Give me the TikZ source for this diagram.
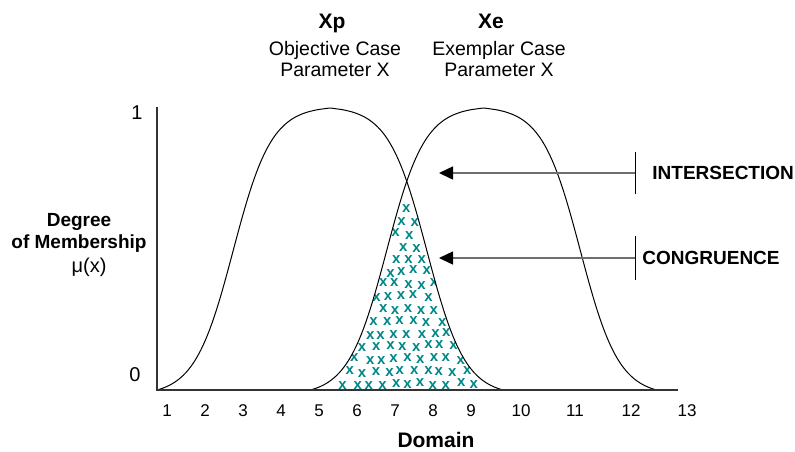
\documentclass[tikz,border=0pt]{standalone}
\usepackage{fontspec}
\setmainfont{Liberation Sans}
\usetikzlibrary{arrows.meta, positioning}
\definecolor{xteal}{RGB}{0, 134, 134}
\definecolor{guidegray}{RGB}{110, 110, 110}

\begin{document}
\begin{tikzpicture}[
  x=0.5pt, y=-0.5pt,
  declare function={bell(\t)=(1/(1+exp(9*(abs(\t)-0.56)))-0.01869)/0.97488;},
  curve/.style={line width=0.5pt, black},
  axis/.style={line width=0.7pt, black!80},
  guide/.style={line width=0.75pt, guidegray, -{Triangle[length=7pt, width=6.5pt, color=black]}},
  bar/.style={line width=0.5pt, black},
  tag/.style={font=\fontsize{9.5}{11}\selectfont\bfseries, inner sep=0pt},
  plain/.style={font=\fontsize{9.75}{10.5}\selectfont, inner sep=0pt},
  tick/.style={font=\fontsize{8.5}{10}\selectfont, inner sep=0pt},
  xmark/.style={font=\fontsize{7.5}{8}\selectfont\bfseries, text=xteal, inner sep=0pt}
]
  \useasboundingbox (0,0) rectangle (795,451);

  % congruence area: x marks only where both curves are above
  \begin{scope}
    \clip (310,390) -- plot[domain=310:406.75, samples=40] (\x, {390-282*bell((\x-483.5)/173)})
      -- plot[domain=406.75:503, samples=40] (\x, {390-282*bell((\x-330)/173)}) -- cycle;
    \pgfmathsetseed{42}
    \foreach \r in {0,...,16}
      \foreach \c in {0,...,15} {
        \pgfmathsetmacro\cx{304+13*\c+6.5*mod(\r,2)+2*rand}
        \pgfmathsetmacro\cy{384-12.5*\r+2*rand}
        \pgfmathsetmacro\edge{390-282*min(bell((\cx-330)/173),bell((\cx-483.5)/173))}
        \pgfmathtruncatemacro\inside{\cy>\edge+4}
        \ifnum\inside=1
          \node[xmark] (x-\r-\c) at (\cx,\cy) {x};
        \fi
      }
  \end{scope}

  % membership functions
  \draw[curve] plot[domain=157:503, samples=120, smooth] (\x, {390-282*bell((\x-330)/173)});
  \draw[curve] plot[domain=310:657, samples=120, smooth] (\x, {390-282*bell((\x-483.5)/173)});

  % axes
  \coordinate (origin) at (157,390);
  \coordinate (ytop) at (157,107);
  \coordinate (xend) at (678,390);
  \draw[axis] (ytop) -- (origin) -- (xend);

  \node[font=\fontsize{10}{12}\selectfont] (y-one) at (137,113) {1};
  \node[font=\fontsize{10}{12}\selectfont] (y-zero) at (135,375) {0};
  \foreach \n/\px in {1/167, 2/205, 3/243, 4/281, 5/319, 6/357, 7/395, 8/433, 9/471,
                      10/521, 11/575, 12/631, 13/687}
    \node[tick] (t\n) at (\px,411) {\n};
  \node[font=\fontsize{10.5}{12}\selectfont\bfseries] (domain) at (436,440) {Domain};

  \node[tag, align=center] (degree) at (79,233) {Degree\\of Membership};
  \node[font=\fontsize{10}{12}\selectfont] (mu) at (89,267.5) {μ(x)};

  % set labels
  \node[font=\fontsize{10.5}{12}\selectfont\bfseries] (xp) at (332,23) {Xp};
  \node[plain, align=center] (xp-text) at (335,59.5) {Objective Case\\Parameter X};
  \node[font=\fontsize{10.5}{12}\selectfont\bfseries] (xe) at (491,21) {Xe};
  \node[plain, align=center] (xe-text) at (499,59.5) {Exemplar Case\\Parameter X};

  % pointers
  \coordinate (int-tip) at (439,173);
  \coordinate (int-bar) at (635,173);
  \draw[guide] (int-bar) -- (int-tip);
  \draw[bar] ([yshift=10.5pt]int-bar) -- ([yshift=-10.5pt]int-bar);
  \node[tag, right=8.5pt of int-bar] (intersection) {INTERSECTION};

  \coordinate (cong-tip) at (439,258);
  \coordinate (cong-bar) at (635,258);
  \draw[guide] (cong-bar) -- (cong-tip);
  \draw[bar] ([yshift=11pt]cong-bar) -- ([yshift=-11pt]cong-bar);
  \node[tag, right=3.5pt of cong-bar] (congruence) {CONGRUENCE};
\end{tikzpicture}
\end{document}
